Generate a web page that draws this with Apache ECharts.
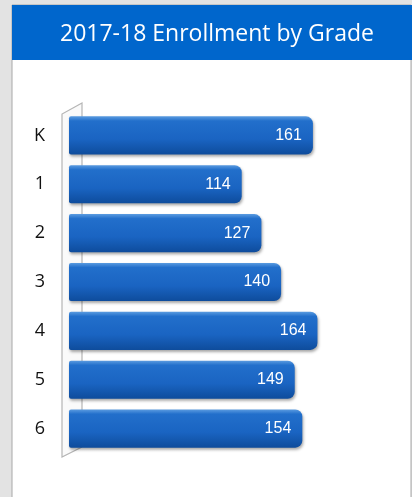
<!DOCTYPE html>
<html>
<head>
<meta charset="utf-8">
<script src="https://cdn.jsdelivr.net/npm/echarts@6/dist/echarts.min.js"></script>
<style>
html,body{margin:0;padding:0;background:#e3e3e3;}
#c{width:412px;height:497px;}
</style>
</head>
<body>
<div id="c"></div>
<script>
const titleText = "2017-18 Enrollment by Grade";
const grades = ["K", "1", "2", "3", "4", "5", "6"];
const enrollment = [161, 114, 127, 140, 164, 149, 154];

const chart = echarts.init(document.getElementById('c'));
const option = {
  animation: false,
  title: {
    text: titleText,
    left: 212, top: 18, textAlign: 'center',
    textStyle: {color: '#ffffff', fontFamily: 'Open Sans', fontWeight: 'normal', fontSize: 23}
  },
  grid: {left: 69, top: 111, width: 303, height: 342},
  xAxis: {type: 'value', min: 0, max: 200, show: false},
  yAxis: {
    type: 'category', data: grades, inverse: true,
    axisLine: {show: false}, axisTick: {show: false},
    axisLabel: {color: '#111111', fontSize: 18, fontFamily: 'Open Sans', margin: 24}
  },
  series: [{
    type: 'bar', data: enrollment, barCategoryGap: '22%', z: 3,
    itemStyle: {
      borderRadius: [2, 7, 7, 2],
      color: new echarts.graphic.LinearGradient(0, 0, 0, 1, [
        {offset: 0, color: '#5a9be0'},
        {offset: 0.12, color: '#226fcb'},
        {offset: 0.6, color: '#1a64c2'},
        {offset: 1, color: '#0e4c9c'}
      ]),
      shadowColor: 'rgba(0,0,0,0.35)', shadowBlur: 3, shadowOffsetX: 1, shadowOffsetY: 2
    },
    label: {
      show: true, position: 'insideRight', distance: 11,
      color: '#ffffff', fontSize: 16, fontFamily: 'Liberation Sans'
    }
  }]
};
chart.setOption(option);

function drawDecor() {
  const g = chart.getModel().getComponent('grid').coordinateSystem.getRect();
  const x0 = g.x - 7, x1 = g.x + 13;
  const yt = g.y, yb = g.y + g.height;
  chart.setOption({
    graphic: [
      {type: 'rect', z: -10, shape: {x: 12, y: 5, width: 399, height: 500},
       style: {fill: '#ffffff', stroke: '#a8a8a8', lineWidth: 1}},
      {type: 'rect', z: -9, shape: {x: 12, y: 5, width: 400, height: 55},
       style: {fill: '#0066cc'}},
      {type: 'polyline', z: 1, shape: {points: [[x1, yb - 6], [x1, yt - 8], [x0, yt + 3], [x0, yb + 4], [x1, yb - 6]]},
       style: {stroke: '#b5b5b5', lineWidth: 1.2, fill: 'rgba(245,245,245,0.5)'}}
    ]
  });
}
drawDecor();
</script>
</body>
</html>
